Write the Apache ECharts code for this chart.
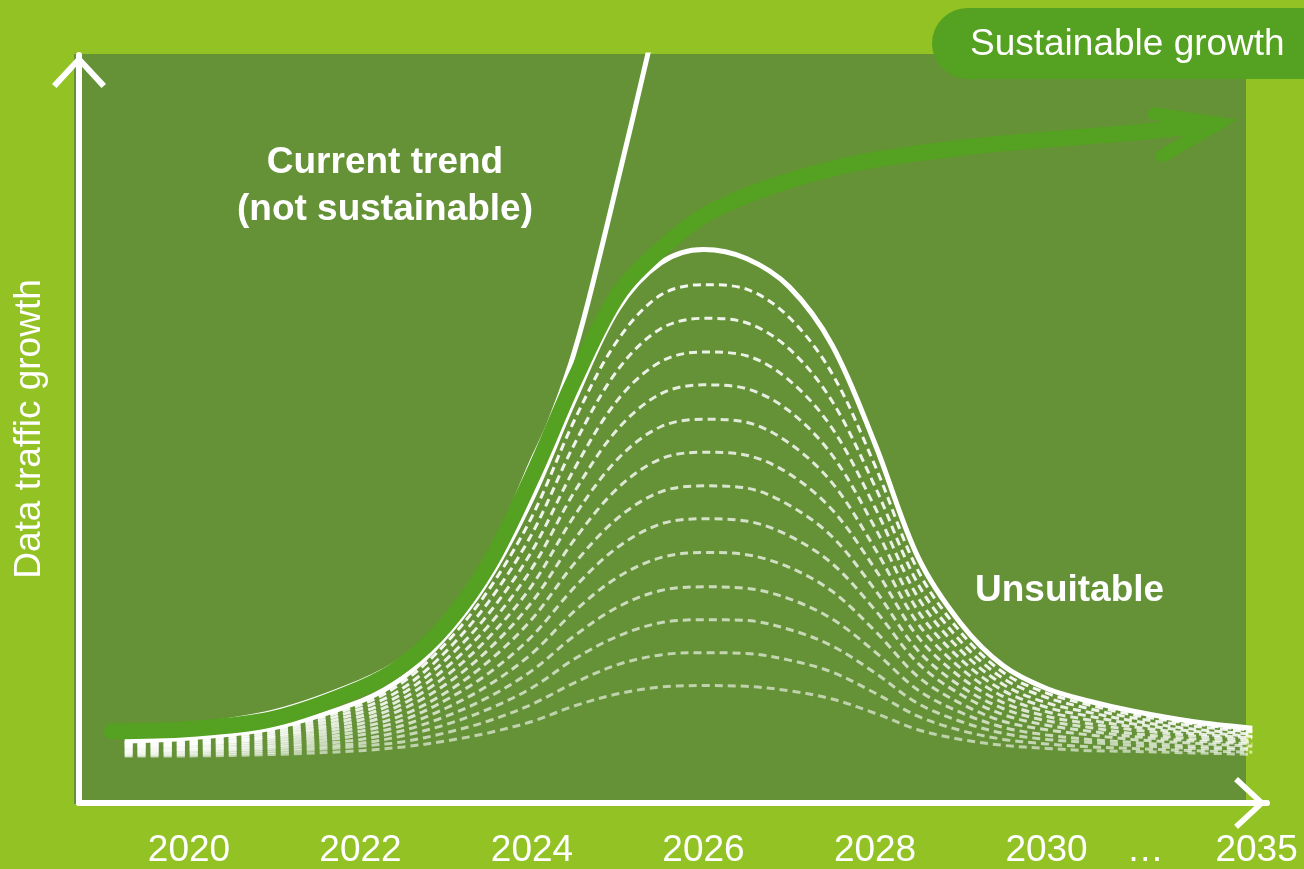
<!DOCTYPE html>
<html>
<head>
<meta charset="utf-8">
<script src="https://cdn.jsdelivr.net/npm/echarts@6/dist/echarts.min.js"></script>
<style>
  html, body { margin: 0; padding: 0; background: #92C223; }
  #chart { width: 1304px; height: 869px; }
</style>
</head>
<body>
<div id="chart"></div>
<script>
// Axis ticks: years, with a compressed tail after 2030
const tickLabels = ['2020', '2022', '2024', '2026', '2028', '2030', '…', '2035'];
const tickPositions = [2020, 2022, 2024, 2026, 2028, 2030, 2031.15, 2032.45];

// Sample positions shared by the "Unsuitable" family of curves
const curveYears = [2019.25, 2020, 2021, 2022, 2022.5, 2023, 2023.5, 2024, 2024.5, 2025, 2025.5,
                    2026, 2026.5, 2027, 2027.5, 2028, 2028.5, 2029, 2029.5, 2030, 2030.5, 2031, 2031.7, 2032.4];

// Outer (solid) boom-and-bust curve
const unsuitable = [8.3, 8.7, 10.1, 13.6, 16.8, 22.3, 30.0, 40.7, 54.0, 66.0, 72.2,
                    74.0, 72.8, 69.0, 61.2, 48.0, 32.9, 24.0, 18.3, 15.3, 13.6, 12.3, 10.9, 10.0];

// Inner dashed variants, from the highest peak down to the lowest
const dashed1  = [8.1, 8.5, 9.9, 13.1, 16.2, 21.4, 28.6, 38.3, 51.3, 61.9, 67.9, 69.3, 68.7, 64.9, 57.4, 45.1, 31.1, 22.8, 17.4, 14.7, 13.1, 11.8, 10.6, 9.7];
const dashed2  = [8.0, 8.3, 9.6, 12.6, 15.4, 20.3, 27.0, 36.0, 48.1, 57.9, 63.4, 64.8, 64.2, 60.7, 53.7, 42.3, 29.3, 21.6, 16.6, 14.1, 12.6, 11.4, 10.3, 9.5];
const dashed3  = [7.8, 8.1, 9.3, 12.1, 14.7, 19.2, 25.4, 33.7, 44.8, 53.9, 59.0, 60.3, 59.8, 56.5, 50.1, 39.5, 27.5, 20.4, 15.8, 13.4, 12.1, 11.0, 9.9, 9.2];
const dashed4  = [7.7, 7.9, 9.0, 11.6, 14.0, 18.1, 23.8, 31.4, 41.7, 50.0, 54.7, 55.9, 55.4, 52.4, 46.5, 36.8, 25.7, 19.2, 15.0, 12.8, 11.6, 10.6, 9.6, 8.9];
const dashed5  = [7.5, 7.8, 8.8, 11.1, 13.3, 17.0, 22.2, 29.1, 38.5, 46.0, 50.3, 51.3, 50.9, 48.1, 42.8, 34.0, 24.0, 18.0, 14.2, 12.2, 11.1, 10.2, 9.3, 8.7];
const dashed6  = [7.4, 7.6, 8.5, 10.6, 12.6, 15.9, 20.6, 26.9, 35.3, 42.1, 46.0, 46.9, 46.5, 44.0, 39.2, 31.3, 22.2, 16.8, 13.4, 11.6, 10.6, 9.8, 9.0, 8.4];
const dashed7  = [7.2, 7.4, 8.2, 10.1, 11.8, 14.8, 19.0, 24.6, 32.1, 38.1, 41.6, 42.4, 42.1, 39.8, 35.6, 28.5, 20.4, 15.6, 12.6, 11.0, 10.1, 9.3, 8.6, 8.1];
const dashed8  = [7.0, 7.2, 7.9, 9.6, 11.1, 13.8, 17.4, 22.3, 28.9, 34.2, 37.3, 38.0, 37.7, 35.7, 32.0, 25.8, 18.7, 14.5, 11.8, 10.4, 9.6, 8.9, 8.3, 7.9];
const dashed9  = [6.9, 7.1, 7.6, 9.1, 10.4, 12.7, 15.8, 20.0, 25.7, 30.2, 32.8, 33.5, 33.2, 31.5, 28.3, 23.0, 16.9, 13.3, 10.9, 9.8, 9.1, 8.5, 8.0, 7.6];
const dashed10 = [6.7, 6.9, 7.4, 8.5, 9.7, 11.6, 14.2, 17.7, 22.4, 26.2, 28.4, 28.9, 28.7, 27.3, 24.6, 20.2, 15.1, 12.1, 10.1, 9.1, 8.5, 8.1, 7.6, 7.3];
const dashed11 = [6.6, 6.7, 7.1, 8.0, 9.0, 10.5, 12.6, 15.4, 19.3, 22.3, 24.1, 24.5, 24.4, 23.2, 21.0, 17.4, 13.3, 10.9, 9.3, 8.5, 8.1, 7.7, 7.3, 7.1];
const dashed12 = [6.4, 6.5, 6.8, 7.6, 8.2, 9.4, 11.0, 13.2, 16.1, 18.5, 19.8, 20.1, 20.0, 19.1, 17.5, 14.7, 11.6, 9.7, 8.5, 7.9, 7.5, 7.3, 7.0, 6.8];
const dashed13 = [6.3, 6.3, 6.5, 7.0, 7.5, 8.3, 9.4, 10.9, 13.0, 14.6, 15.5, 15.7, 15.6, 15.0, 13.9, 12.0, 9.8, 8.5, 7.7, 7.3, 7.0, 6.9, 6.7, 6.5];
const dashedSets = [dashed1, dashed2, dashed3, dashed4, dashed5, dashed6, dashed7,
                    dashed8, dashed9, dashed10, dashed11, dashed12, dashed13];

// "Current trend" – exponential growth running off the top
const trendYears = [2019.1, 2020, 2021, 2022, 2022.5, 2023, 2023.5, 2024, 2024.2, 2024.45, 2024.65, 2025, 2025.35, 2025.45];
const trendValues = [10.0, 10.4, 12.2, 16.2, 19.3, 24.6, 32.7, 45.7, 50.7, 58.7, 66.8, 83.2, 100.1, 105.6];

// "Sustainable growth" – S-curve levelling off
const growthYears = [2019.1, 2020, 2021, 2022, 2022.5, 2023, 2023.5, 2024, 2024.5, 2025, 2025.5, 2026, 2026.5, 2027, 2027.5, 2028, 2029, 2030, 2031, 2031.98];
const growthValues = [9.6, 9.9, 11.3, 15.3, 18.5, 23.9, 32.0, 43.6, 56.7, 67.9, 74.0, 78.5, 81.2, 83.2, 84.8, 86.0, 87.6, 88.7, 89.6, 90.8];

const FONT = '"Liberation Sans", Arial, Helvetica, sans-serif';
const WHITE = '#ffffff';
const BG_LIGHT = '#92C223';
const BG_PLOT = '#659237';
const GREEN = '#55A121';

// open chevron used as arrow heads on the axes (points up before rotation)
const axisChevron = 'path://M27 0 L54 29 L49.5 33 L27 8.5 L4.5 33 L0 29 Z';
// rounded chevron for the end of the growth curve (points right)
const curveChevron = 'path://M12.95 1.89 L89.67 36 L12.95 70.11 A8 8 0 0 1 6.45 55.49 L50.33 36 L6.45 16.51 A8 8 0 0 1 12.95 1.89 Z';

const zip = (xs, ys) => xs.map((x, i) => [x, ys[i]]);

const series = [];

dashedSets.forEach((vals, i) => {
  series.push({
    type: 'line',
    z: 2,
    smooth: 0.34,
    symbol: 'none',
    silent: true,
    data: zip(curveYears, vals),
    lineStyle: {
      color: WHITE,
      width: 3,
      type: [8, 5],
      opacity: 0.92 - i * 0.028
    }
  });
});

series.push({
  type: 'line',
  z: 3,
  smooth: 0.34,
  symbol: 'none',
  silent: true,
  data: zip(curveYears, unsuitable),
  lineStyle: { color: WHITE, width: 5 }
});

series.push({
  type: 'line',
  z: 4,
  smooth: 0.34,
  symbol: 'none',
  silent: true,
  data: zip(trendYears, trendValues),
  lineStyle: { color: WHITE, width: 5 }
});

const growthData = zip(growthYears, growthValues).map((p, i, arr) => {
  if (i !== arr.length - 1) return p;
  return {
    value: p,
    symbol: curveChevron,
    symbolSize: [88, 70],
    symbolKeepAspect: true,
    symbolRotate: 10.7,
    symbolOffset: [-22, 4.2],
    itemStyle: { color: GREEN, opacity: 1 }
  };
});

series.push({
  type: 'line',
  z: 5,
  smooth: 0.34,
  symbol: 'none',
  showSymbol: true,
  silent: true,
  color: GREEN,
  data: growthData,
  lineStyle: { color: GREEN, width: 16, cap: 'round' }
});

const option = {
  backgroundColor: BG_LIGHT,
  animation: false,
  grid: { left: 79, right: 37, top: 55, bottom: 63, containLabel: false },
  xAxis: {
    type: 'value',
    min: 2018.717,
    max: 2032.571,
    splitLine: { show: false },
    axisTick: { show: false },
    axisLine: {
      show: true,
      lineStyle: { color: WHITE, width: 6 },
      symbol: ['none', axisChevron],
      symbolSize: [52, 34],
      symbolOffset: [0, -17]
    },
    axisLabel: {
      customValues: tickPositions,
      formatter: v => {
        let best = 0;
        tickPositions.forEach((p, i) => {
          if (Math.abs(p - v) < Math.abs(tickPositions[best] - v)) best = i;
        });
        return tickLabels[best];
      },
      color: WHITE,
      fontSize: 37,
      fontFamily: FONT,
      margin: 29
    }
  },
  yAxis: {
    type: 'value',
    min: 0,
    max: 100,
    splitLine: { show: false },
    axisTick: { show: false },
    axisLabel: { show: false },
    axisLine: {
      show: true,
      lineStyle: { color: WHITE, width: 6 },
      symbol: ['none', axisChevron],
      symbolSize: [54, 33],
      symbolOffset: [0, -16.5]
    },
    name: 'Data traffic growth',
    nameLocation: 'middle',
    nameGap: 31,
    nameTextStyle: { color: WHITE, fontSize: 37, fontFamily: FONT }
  },
  graphic: [
    {
      type: 'rect',
      z: -1,
      silent: true,
      shape: { x: 74, y: 54, width: 1172, height: 750 },
      style: { fill: BG_PLOT }
    },
    {
      type: 'rect',
      z: 20,
      silent: true,
      shape: { x: 932, y: 8, width: 420, height: 71, r: 35.5 },
      style: { fill: GREEN }
    },
    {
      type: 'text',
      z: 21,
      silent: true,
      x: 970,
      y: 45,
      style: {
        text: 'Sustainable growth',
        fill: WHITE,
        fontSize: 37,
        fontFamily: FONT,
        align: 'left', textAlign: 'left',
        verticalAlign: 'middle', textVerticalAlign: 'middle'
      }
    },
    {
      type: 'text',
      z: 21,
      silent: true,
      x: 385,
      y: 186,
      style: {
        text: 'Current trend\n(not sustainable)',
        fill: WHITE,
        fontSize: 37,
        fontWeight: 'bold',
        fontFamily: FONT,
        lineHeight: 47,
        align: 'center', textAlign: 'center',
        verticalAlign: 'middle', textVerticalAlign: 'middle'
      }
    },
    {
      type: 'text',
      z: 21,
      silent: true,
      x: 975,
      y: 591,
      style: {
        text: 'Unsuitable',
        fill: WHITE,
        fontSize: 37,
        fontWeight: 'bold',
        fontFamily: FONT,
        align: 'left', textAlign: 'left',
        verticalAlign: 'middle', textVerticalAlign: 'middle'
      }
    }
  ],
  series: series
};

const chart = echarts.init(document.getElementById('chart'), null, { renderer: 'canvas' });
chart.setOption(option);
</script>
</body>
</html>
